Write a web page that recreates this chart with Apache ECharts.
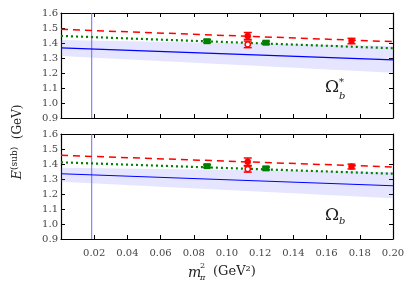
<!DOCTYPE html>
<html><head><meta charset="utf-8">
<script src="https://cdn.jsdelivr.net/npm/echarts@6/dist/echarts.min.js"></script>
<style>html,body{margin:0;padding:0;background:#fff}#c{width:411px;height:297px}</style>
</head><body><div id="c"></div>
<script>
// x range and ticks
const xTicks = [0.02,0.04,0.06,0.08,0.10,0.12,0.14,0.16,0.18,0.20];
const yTicks = [0.9,1.0,1.1,1.2,1.3,1.4,1.5,1.6];
const physX = 0.0185;
// fit endpoints [x, y]
const redFitTop = [[0,1.491],[0.2,1.409]];
const greenFitTop = [[0,1.447],[0.2,1.365]];
const blueFitTop = [[0,1.367],[0.2,1.287]];
const bandTop = [[0,1.313,1.42],[0.2,1.202,1.38]];
const redFitBot = [[0,1.458],[0.2,1.38]];
const greenFitBot = [[0,1.411],[0.2,1.335]];
const blueFitBot = [[0,1.335],[0.2,1.255]];
const bandBot = [[0,1.282,1.375],[0.2,1.171,1.347]];
// points [x, y, err]
const greenPtsTop = [[0.088,1.412,0.009],[0.1235,1.402,0.009]];
const redPtsTop = [[0.1125,1.447,0.023],[0.175,1.413,0.018]];
const redOpenTop = [[0.1125,1.391,0.022]];
const greenPtsBot = [[0.088,1.386,0.009],[0.1235,1.371,0.009]];
const redPtsBot = [[0.1125,1.415,0.025],[0.175,1.383,0.016]];
const redOpenBot = [[0.1125,1.366,0.02]];

const serif = '"DejaVu Serif","Liberation Serif",serif';
const RED='#ff0000', GREEN='#008000', BLUE='#0000ff';
const chart = echarts.init(document.getElementById('c'), null, {renderer:'canvas'});

function xAx(gi, show, pos){
  return {type:'value', gridIndex:gi, min:0, max:0.2, interval:0.02, position:pos,
    axisLine:{show:true,onZero:false,lineStyle:{color:'#000',width:1.2}},
    axisTick:{show:true,inside:true,length:4,lineStyle:{color:'#000'}},
    splitLine:{show:false},
    axisLabel:{show:show,color:'#444',fontFamily:serif,fontSize:10,margin:9,
      formatter:v=> (v===0?'':v.toFixed(2))}};
}
function yAx(gi, show, pos){
  return {type:'value', gridIndex:gi, min:0.9, max:1.6, interval:0.1, position:pos,
    axisLine:{show:true,onZero:false,lineStyle:{color:'#000',width:1.2}},
    axisTick:{show:true,inside:true,length:4,lineStyle:{color:'#000'}},
    splitLine:{show:false},
    axisLabel:{show:show,color:'#444',fontFamily:serif,fontSize:10,margin:3,
      formatter:v=>v.toFixed(1)}};
}
function band(data, xi, yi){
  return {type:'custom', xAxisIndex:xi, yAxisIndex:yi, data:[0], silent:true, z:1,
    renderItem:(p,api)=>{
      const pts=[];
      data.forEach(d=>pts.push(api.coord([d[0],d[2]])));
      data.slice().reverse().forEach(d=>pts.push(api.coord([d[0],d[1]])));
      return {type:'polygon',shape:{points:pts},style:{fill:'rgba(110,110,255,0.18)'}};
    }};
}
function fit(data, xi, yi, color, type, w){
  return {type:'line', xAxisIndex:xi, yAxisIndex:yi, data:data, symbol:'none', silent:true, z:3,
    lineStyle:{color:color,width:w,type:type}};
}
function errs(data, xi, yi, color, shape){
  return {type:'custom', xAxisIndex:xi, yAxisIndex:yi, data:data, z:5, silent:true,
    renderItem:(p,api)=>{
      const x=api.value(0), y=api.value(1), e=api.value(2);
      const c=api.coord([x,y]), t=api.coord([x,y+e]), b=api.coord([x,y-e]);
      const cw=4;
      const ch=[
        {type:'line',shape:{x1:c[0],y1:t[1],x2:c[0],y2:b[1]},style:{stroke:color,lineWidth:1.5}},
        {type:'line',shape:{x1:c[0]-cw,y1:t[1],x2:c[0]+cw,y2:t[1]},style:{stroke:color,lineWidth:1.5}},
        {type:'line',shape:{x1:c[0]-cw,y1:b[1],x2:c[0]+cw,y2:b[1]},style:{stroke:color,lineWidth:1.5}}
      ];
      if(shape==='square') ch.push({type:'rect',shape:{x:c[0]-3.5,y:c[1]-3,width:7,height:6},style:{fill:color}});
      else if(shape==='circle') ch.push({type:'circle',shape:{cx:c[0],cy:c[1],r:3.2},style:{fill:color}});
      else ch.push({type:'circle',shape:{cx:c[0],cy:c[1],r:2.6},style:{fill:'#fff',stroke:color,lineWidth:1.4}});
      return {type:'group',children:ch};
    }};
}
function vline(xi, yi){
  return {type:'line', xAxisIndex:xi, yAxisIndex:yi, data:[[physX,0.9],[physX,1.6]], symbol:'none', silent:true, z:2,
    lineStyle:{color:'#6a6aff',width:1}};
}

const option = {
  animation:false,
  grid:[{left:61,top:13,width:332,height:105},{left:61,top:134,width:332,height:105}],
  xAxis:[xAx(0,false,'bottom'), xAx(0,false,'top'), xAx(1,true,'bottom'), xAx(1,false,'top')],
  yAxis:[yAx(0,true,'left'), yAx(0,false,'right'), yAx(1,true,'left'), yAx(1,false,'right')],
  series:[
    band(bandTop,0,0), vline(0,0),
    fit(blueFitTop,0,0,BLUE,'solid',1.2), fit(greenFitTop,0,0,GREEN,[2,3],2.2), fit(redFitTop,0,0,RED,[7,5],1.5),
    errs(greenPtsTop,0,0,GREEN,'square'), errs(redPtsTop,0,0,RED,'circle'), errs(redOpenTop,0,0,RED,'open'),
    band(bandBot,2,2), vline(2,2),
    fit(blueFitBot,2,2,BLUE,'solid',1.2), fit(greenFitBot,2,2,GREEN,[2,3],2.2), fit(redFitBot,2,2,RED,[7,5],1.5),
    errs(greenPtsBot,2,2,GREEN,'square'), errs(redPtsBot,2,2,RED,'circle'), errs(redOpenBot,2,2,RED,'open')
  ],
  graphic:[
    {type:'text', x:18, y:142, rotation:Math.PI/2, style:{
      text:'{e|E}{s|(sub)}{n|  (GeV)}', align:'center', verticalAlign:'middle',
      rich:{e:{fontFamily:serif,fontStyle:'italic',fontSize:13,fill:'#222'},
            s:{fontFamily:serif,fontSize:9,fill:'#222',verticalAlign:'top',padding:[0,0,6,0]},
            n:{fontFamily:serif,fontSize:12,fill:'#222'}}}},
    {type:'text', x:188, y:273, style:{text:'m',font:'italic 14px '+serif,fill:'#222',verticalAlign:'middle'}},
    {type:'text', x:200, y:266, style:{text:'2',font:'8px '+serif,fill:'#222',verticalAlign:'middle'}},
    {type:'text', x:200, y:278, style:{text:'π',font:'italic 8px '+serif,fill:'#222',verticalAlign:'middle'}},
    {type:'text', x:213, y:272, style:{text:'(GeV²)',font:'13px '+serif,fill:'#222',verticalAlign:'middle'}},
    {type:'text', x:325, y:88, style:{text:'Ω',font:'17px '+serif,fill:'#222',verticalAlign:'middle'}},
    {type:'text', x:339, y:82, style:{text:'*',font:'10px '+serif,fill:'#222',verticalAlign:'middle'}},
    {type:'text', x:339, y:96, style:{text:'b',font:'italic 10px '+serif,fill:'#222',verticalAlign:'middle'}},
    {type:'text', x:325, y:216, style:{text:'Ω',font:'17px '+serif,fill:'#222',verticalAlign:'middle'}},
    {type:'text', x:339, y:221, style:{text:'b',font:'italic 10px '+serif,fill:'#222',verticalAlign:'middle'}}
  ]
};
chart.setOption(option);
</script></body></html>
